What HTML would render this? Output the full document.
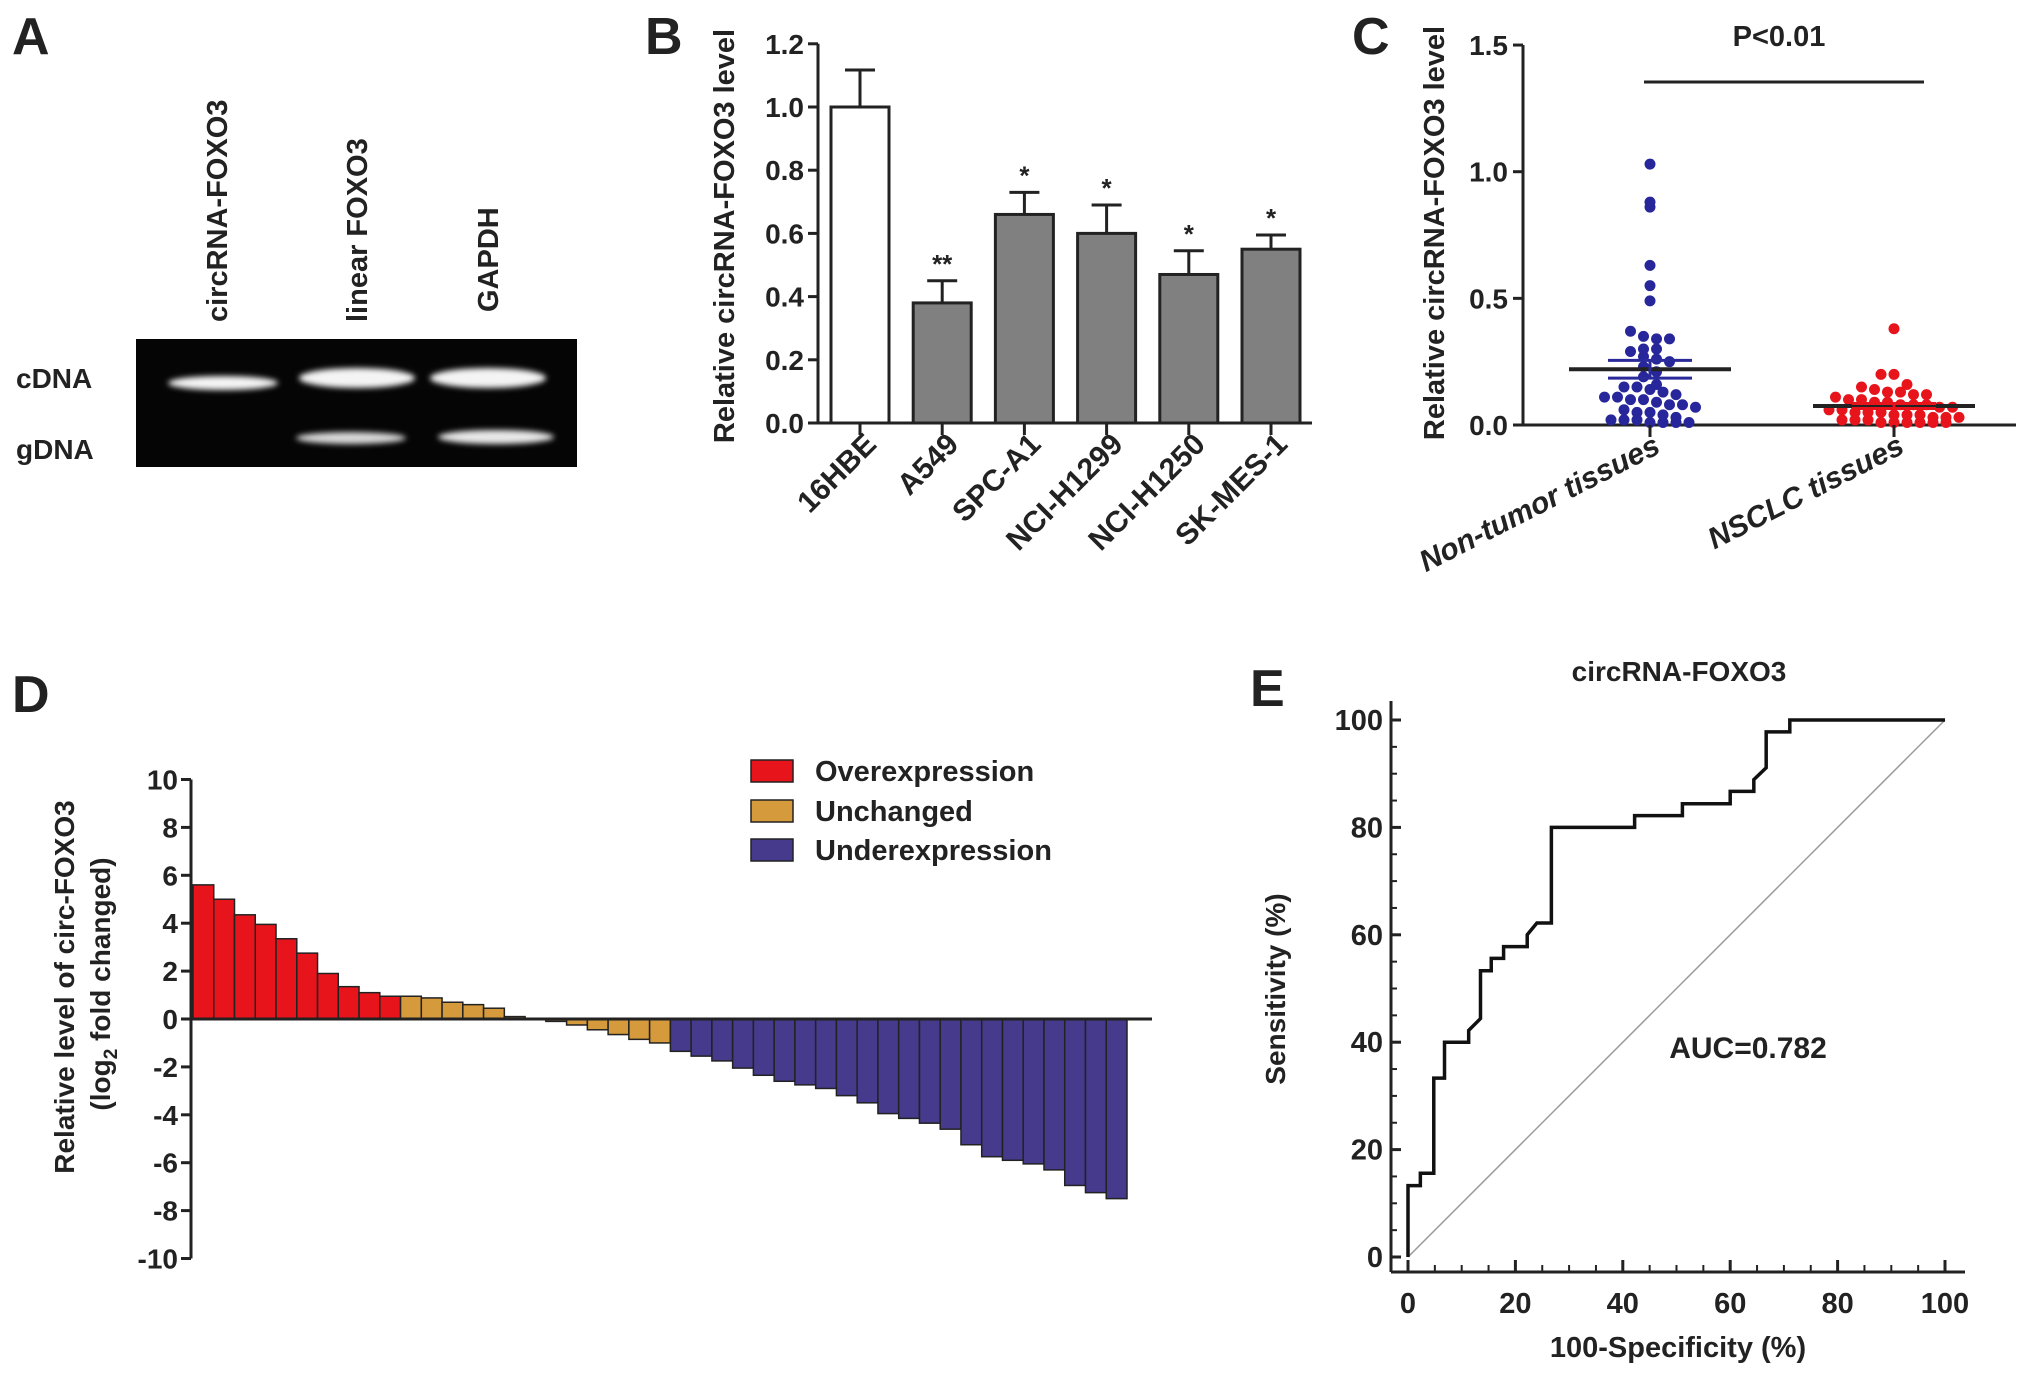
<!DOCTYPE html>
<html><head><meta charset="utf-8"><style>
html,body{margin:0;padding:0;background:#fff;}
svg{display:block;font-family:"Liberation Sans",Arial,sans-serif;}
text{font-weight:bold;fill:#222;}
</style></head><body>
<svg id="fig" width="2031" height="1378" viewBox="0 0 2031 1378" xmlns="http://www.w3.org/2000/svg">
<defs>
<filter id="glow" x="-30%" y="-100%" width="160%" height="300%"><feGaussianBlur stdDeviation="3"/></filter>
</defs>
<g>
<text x="12" y="54" font-size="52">A</text>
<text font-size="29" transform="translate(227,322) rotate(-90)">circRNA-FOXO3</text>
<text font-size="29" transform="translate(367,322) rotate(-90)">linear FOXO3</text>
<text font-size="29" transform="translate(498,312) rotate(-90)">GAPDH</text>
<text x="16" y="388" font-size="28">cDNA</text>
<text x="16" y="459" font-size="28">gDNA</text>
<rect x="136" y="339" width="441" height="128" fill="#050505"/>
<g filter="url(#glow)" fill="#f4f4f4">
<ellipse cx="223" cy="383" rx="55" ry="7"/>
<ellipse cx="357" cy="378" rx="58" ry="10"/>
<ellipse cx="488" cy="378" rx="58" ry="10"/>
<ellipse cx="351" cy="438" rx="55" ry="6" fill="#d8d8d8"/>
<ellipse cx="496" cy="437" rx="58" ry="7" fill="#e8e8e8"/>
</g>
</g>
<g id="pb">
<text x="645" y="54" font-size="52">B</text>
</g>
<g id="pc">
<text x="1352" y="54" font-size="52">C</text>
</g>
<g id="pd">
<text x="12" y="712" font-size="52">D</text>
</g>
<g id="pe">
<text x="1250" y="706" font-size="52">E</text>
</g>
</svg>
<script>
var bCategories = ["16HBE","A549","SPC-A1","NCI-H1299","NCI-H1250","SK-MES-1"];
var bValues = [1.0, 0.38, 0.66, 0.60, 0.47, 0.55];
var bErrors = [0.117, 0.07, 0.07, 0.09, 0.075, 0.045];
var bStars = ["", "**", "*", "*", "*", "*"];
var bTicks = [0.0,0.2,0.4,0.6,0.8,1.0,1.2];
var cGroups = ["Non-tumor tissues","NSCLC tissues"];
var cNonTumor = [1.03,0.88,0.86,0.63,0.55,0.49,0.37,0.35,0.34,0.34,0.30,0.30,0.29,0.27,0.26,0.25,0.23,0.21,0.19,0.16,0.15,0.15,0.14,0.13,0.12,0.11,0.11,0.10,0.10,0.09,0.08,0.08,0.07,0.06,0.05,0.05,0.04,0.03,0.02,0.02,0.02,0.01,0.01,0.01,0.01];
var cNSCLC = [0.38,0.20,0.20,0.16,0.15,0.14,0.13,0.13,0.12,0.12,0.11,0.10,0.10,0.09,0.09,0.08,0.08,0.08,0.07,0.07,0.06,0.06,0.05,0.05,0.05,0.04,0.04,0.04,0.03,0.03,0.03,0.02,0.02,0.02,0.01,0.01,0.01,0.01,0.01,0.01];
var cMeans = [0.22, 0.075];
var cSems = [0.035, 0.01];
var cTicks = [0.0,0.5,1.0,1.5];
var dOver = [5.6,5.0,4.35,3.95,3.35,2.75,1.9,1.35,1.1,0.95];
var dUnchanged = [0.95,0.88,0.7,0.6,0.45,0.1,0.03,-0.1,-0.25,-0.45,-0.65,-0.85,-1.0];
var dUnder = [-1.35,-1.55,-1.75,-2.05,-2.35,-2.6,-2.75,-2.9,-3.2,-3.5,-3.95,-4.15,-4.35,-4.6,-5.25,-5.75,-5.9,-6.05,-6.3,-6.95,-7.25,-7.5];
var dTicks = [-10,-8,-6,-4,-2,0,2,4,6,8,10];
var dLegend = ["Overexpression","Unchanged","Underexpression"];
var rocX = [0,0,2.3,2.3,4.8,4.8,6.8,6.8,11.3,11.3,13.5,13.5,15.5,15.5,17.8,17.8,22.2,22.2,24,26.7,26.7,42.2,42.2,51.1,51.1,60,60,64.4,64.4,66.7,66.7,71.1,71.1,100];
var rocY = [0,13.3,13.3,15.6,15.6,33.3,33.3,40,40,42.2,44.4,53.3,53.3,55.6,55.6,57.8,57.8,60,62.2,62.2,80,80,82.2,82.2,84.4,84.4,86.7,86.7,88.9,91.1,97.8,97.8,100,100];
var eTicks = [0,20,40,60,80,100];

var NS = "http://www.w3.org/2000/svg";
function mk(parent, tag, attrs, txt){
  var e = document.createElementNS(NS, tag);
  for (var k in attrs) e.setAttribute(k, attrs[k]);
  if (txt !== undefined) e.textContent = txt;
  parent.appendChild(e);
  return e;
}
var el;
var pb = document.getElementById("pb");
function byB(v){ return 423 - v*316; }
function bxB(i){ return 860 + i*82.2; }
el = mk(pb,"line",{x1:818,y1:byB(1.2),x2:818,y2:423,stroke:"#222","stroke-width":3});
 
el = mk(pb,"line",{x1:818,y1:423,x2:1312,y2:423,stroke:"#222","stroke-width":3});
 
bTicks.forEach(function(t){
  mk(pb,"line",{x1:808,y1:byB(t),x2:818,y2:byB(t),stroke:"#222","stroke-width":3});
  el = mk(pb,"text",{x:804,y:byB(t)+10,"text-anchor":"end","font-size":28}, t.toFixed(1));
   
});
el = mk(pb,"text",{transform:"translate(734,236) rotate(-90)","text-anchor":"middle","font-size":29},"Relative circRNA-FOXO3 level");
 
bCategories.forEach(function(c,i){
  var cx = bxB(i), v = bValues[i], e = bErrors[i];
  mk(pb,"line",{x1:cx,y1:byB(v+e),x2:cx,y2:byB(v),stroke:"#222","stroke-width":3});
  mk(pb,"line",{x1:cx-15,y1:byB(v+e),x2:cx+15,y2:byB(v+e),stroke:"#222","stroke-width":3});
  el = mk(pb,"rect",{x:cx-29,y:byB(v),width:58,height:423-byB(v),fill:i===0?"#fff":"#808080",stroke:"#222","stroke-width":3});
   
  mk(pb,"line",{x1:cx,y1:423,x2:cx,y2:435,stroke:"#222","stroke-width":3});
  if (bStars[i]) {
    el = mk(pb,"text",{x:cx,y:byB(v+e)-8,"text-anchor":"middle","font-size":26,"font-weight":"normal"},bStars[i]);
     
  }
  el = mk(pb,"text",{transform:"translate("+(cx+18)+",446) rotate(-45)","text-anchor":"end","font-size":30},c);
   
});
var pc = document.getElementById("pc");
function byC(v){ return 425 - v*253.3; }
var cCenters = [1650, 1894];
el = mk(pc,"line",{x1:1523,y1:byC(1.5),x2:1523,y2:425,stroke:"#222","stroke-width":3});
 
el = mk(pc,"line",{x1:1523,y1:425,x2:2016,y2:425,stroke:"#222","stroke-width":3});
 
cTicks.forEach(function(t){
  mk(pc,"line",{x1:1513,y1:byC(t),x2:1523,y2:byC(t),stroke:"#222","stroke-width":3});
  el = mk(pc,"text",{x:1508,y:byC(t)+10,"text-anchor":"end","font-size":28}, t.toFixed(1));
   
});
el = mk(pc,"text",{transform:"translate(1444,233) rotate(-90)","text-anchor":"middle","font-size":29},"Relative circRNA-FOXO3 level");
 
el = mk(pc,"text",{x:1779,y:46,"text-anchor":"middle","font-size":29},"P<0.01");
 
el = mk(pc,"line",{x1:1644,y1:82,x2:1924,y2:82,stroke:"#222","stroke-width":3});
 
function swarm(vals, cx, color, name){
  var bins = {};
  vals.forEach(function(v){
    var key = Math.round(v/0.045);
    (bins[key] = bins[key] || []).push(v);
  });
  Object.keys(bins).forEach(function(k){
    var arr = bins[k], n = arr.length;
    arr.forEach(function(v,j){
      var off = (j - (n-1)/2) * 13;
      var d = mk(pc,"circle",{cx:cx+off,cy:byC(v),r:5.5,fill:color});
       
    });
  });
}
swarm(cNonTumor, cCenters[0], "#27269a", "non-tumor-point");
swarm(cNSCLC, cCenters[1], "#e8141c", "nsclc-point");
[0,1].forEach(function(g){
  var cx = cCenters[g], m = cMeans[g], s = cSems[g];
  var col = g===0 ? "#2a2a9a" : "#e8141c";
  el = mk(pc,"line",{x1:cx-81,y1:byC(m),x2:cx+81,y2:byC(m),stroke:"#222","stroke-width":4});
   
  mk(pc,"line",{x1:cx,y1:byC(m+s),x2:cx,y2:byC(m-s),stroke:col,"stroke-width":3});
  mk(pc,"line",{x1:cx-42,y1:byC(m+s),x2:cx+42,y2:byC(m+s),stroke:col,"stroke-width":3});
  mk(pc,"line",{x1:cx-42,y1:byC(m-s),x2:cx+42,y2:byC(m-s),stroke:col,"stroke-width":3});
  mk(pc,"line",{x1:cx,y1:425,x2:cx,y2:437,stroke:"#222","stroke-width":3});
  el = mk(pc,"text",{transform:"translate("+(cx+12)+",452) rotate(-27)","text-anchor":"end","font-size":30,"font-style":"italic"},cGroups[g]);
   
});
var pd = document.getElementById("pd");
function byD(v){ return 1019 - v*23.95; }
var dAll = [], dCol = [];
dOver.forEach(function(v){ dAll.push(v); dCol.push(0); });
dUnchanged.forEach(function(v){ dAll.push(v); dCol.push(1); });
dUnder.forEach(function(v){ dAll.push(v); dCol.push(2); });
var dColors = ["#e8141c","#d49a3c","#453a8c"];
var dNames = ["bar-overexpression","bar-unchanged","bar-underexpression"];
var bw = (1127-193)/dAll.length;
function bxD(i){ return 193 + i*bw; }
dAll.forEach(function(v,i){
  var y0 = byD(Math.max(v,0)), h = Math.abs(byD(v)-byD(0));
  el = mk(pd,"rect",{x:bxD(i),y:y0,width:bw,height:h,fill:dColors[dCol[i]],stroke:"#222","stroke-width":1.5});
   
});
el = mk(pd,"line",{x1:191,y1:byD(10),x2:191,y2:byD(-10),stroke:"#222","stroke-width":3});
 
el = mk(pd,"line",{x1:191,y1:byD(0),x2:1152,y2:byD(0),stroke:"#222","stroke-width":3});
 
dTicks.forEach(function(t){
  mk(pd,"line",{x1:181,y1:byD(t),x2:191,y2:byD(t),stroke:"#222","stroke-width":3});
  el = mk(pd,"text",{x:178,y:byD(t)+10,"text-anchor":"end","font-size":28}, String(t));
   
});
el = mk(pd,"text",{transform:"translate(74,987) rotate(-90)","text-anchor":"middle","font-size":28},"Relative level of circ-FOXO3");
 
el = mk(pd,"text",{transform:"translate(110,984) rotate(-90)","text-anchor":"middle","font-size":28});
 
el.innerHTML = '(log<tspan font-size="19" dy="7">2</tspan><tspan dy="-7"> fold changed)</tspan>';
var legY = [771, 811, 850];
dLegend.forEach(function(l,i){
  el = mk(pd,"rect",{x:751,y:legY[i]-11,width:42,height:22,fill:dColors[i],stroke:"#222","stroke-width":1.5});
   
  el = mk(pd,"text",{x:815,y:legY[i]+10,"font-size":29},l);
   
});
var pe = document.getElementById("pe");
function exE(v){ return 1408 + v*5.37; }
function eyE(v){ return 1257 - v*5.37; }
el = mk(pe,"line",{x1:1391,y1:701,x2:1391,y2:1272,stroke:"#222","stroke-width":3});
 
el = mk(pe,"line",{x1:1391,y1:1272,x2:1965,y2:1272,stroke:"#222","stroke-width":3});
 
for (var k=0;k<=100;k+=5){
  var major = (k%20===0);
  mk(pe,"line",{x1:1391,y1:eyE(k),x2:1391+(major?10:6),y2:eyE(k),stroke:"#222","stroke-width":major?3:2});
  mk(pe,"line",{x1:exE(k),y1:1272,x2:exE(k),y2:1272-(major?12:7),stroke:"#222","stroke-width":major?3:2});
}
eTicks.forEach(function(t){
  el = mk(pe,"text",{x:1383,y:eyE(t)+10,"text-anchor":"end","font-size":29},String(t));
   
  el = mk(pe,"text",{x:exE(t),y:1313,"text-anchor":"middle","font-size":29},String(t));
   
});
el = mk(pe,"line",{x1:exE(0),y1:eyE(0),x2:exE(100),y2:eyE(100),stroke:"#999","stroke-width":1.5});
 
var pts = rocX.map(function(x,i){ return exE(x)+","+eyE(rocY[i]); }).join(" ");
el = mk(pe,"polyline",{points:pts,fill:"none",stroke:"#111","stroke-width":3.5});
 
el = mk(pe,"text",{x:1679,y:681,"text-anchor":"middle","font-size":28},"circRNA-FOXO3");
 
el = mk(pe,"text",{x:1748,y:1058,"text-anchor":"middle","font-size":30},"AUC=0.782");
 
el = mk(pe,"text",{transform:"translate(1285,989) rotate(-90)","text-anchor":"middle","font-size":28},"Sensitivity (%)");
 
el = mk(pe,"text",{x:1678,y:1357,"text-anchor":"middle","font-size":29},"100-Specificity (%)");
 
</script>
</body></html>
